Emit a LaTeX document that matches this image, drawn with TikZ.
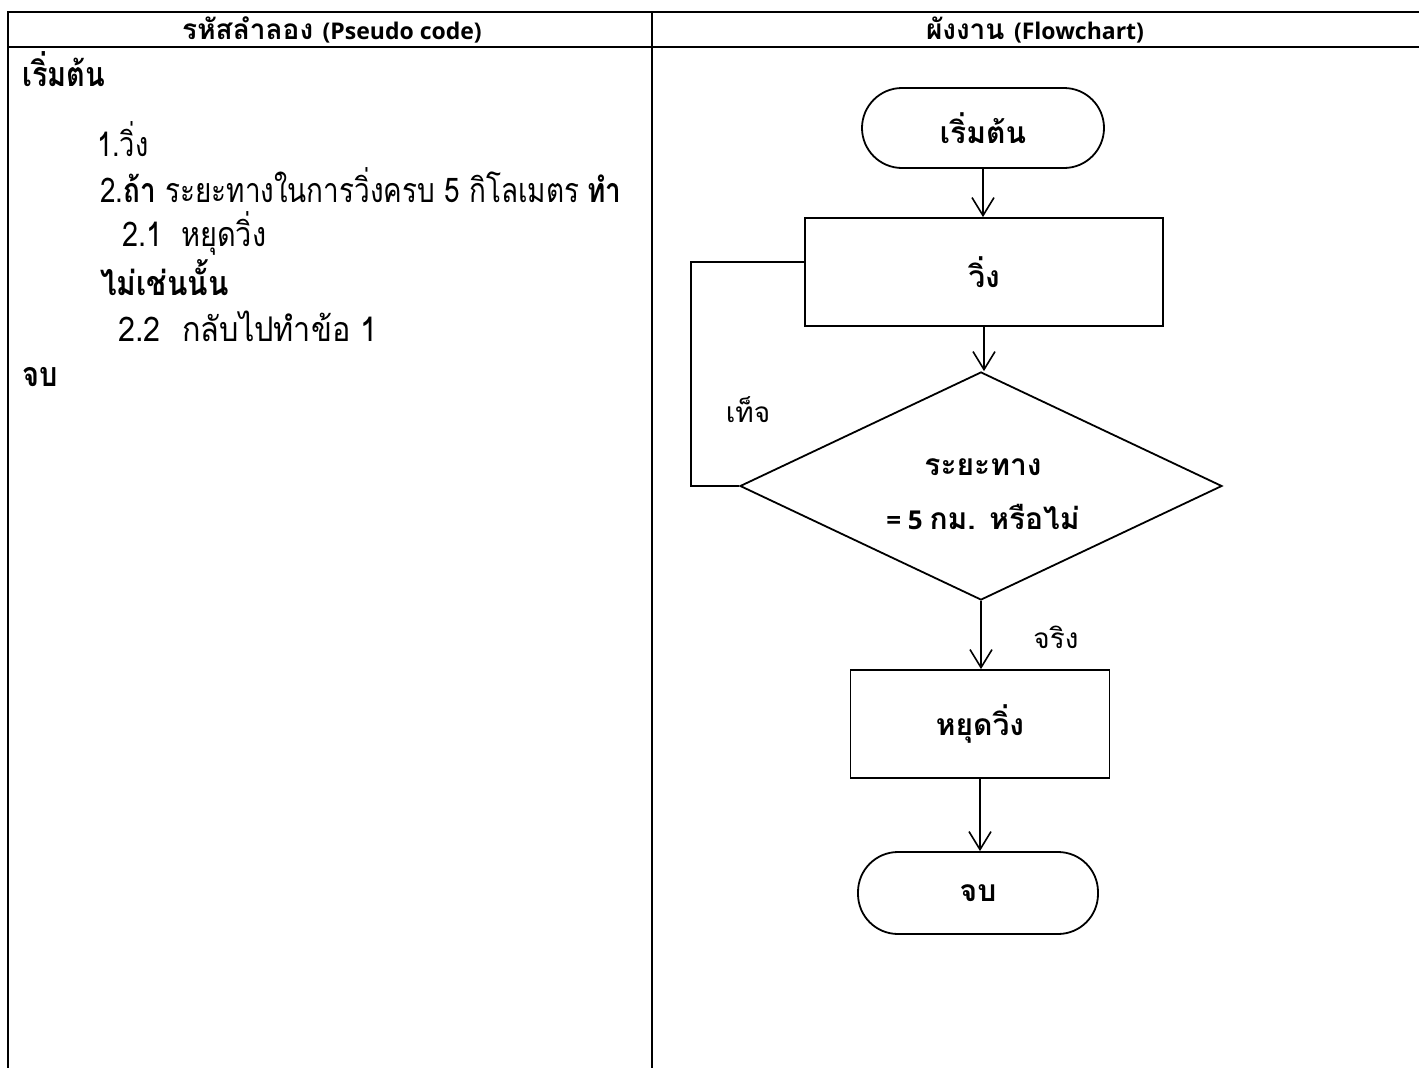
\documentclass[tikz,border=0pt]{standalone}
\usepackage{fontspec}
\setmainfont{Loma}[Script=Thai]
\newfontfamily\latfont{Open Sans}
\usetikzlibrary{arrows.meta,shapes.geometric}
\newcommand\narrowtxt[2][0.85]{\scalebox{#1}[1]{#2}}
\newcommand\lat[1]{{\latfont #1}}
\begin{document}
\begin{tikzpicture}[x=1pt,y=-1pt,
  tbl/.style={line width=2.6pt,black},
  fl/.style={line width=1.8pt,black},
  arr/.style={fl,-{Straight Barb[length=18pt,width=22pt,line width=1.6pt]}},
  txt/.style={anchor=base west,inner sep=0pt,font=\fontsize{34}{40}\selectfont},
  btxt/.style={txt,font=\fontsize{34}{40}\selectfont\bfseries},
  hdr/.style={anchor=base,inner sep=0pt,font=\fontsize{28}{32}\selectfont\bfseries},
  term/.style={draw,fl,rectangle,rounded corners=40pt,inner sep=0pt,font=\fontsize{30}{36}\selectfont\bfseries},
  proc/.style={draw,fl,rectangle,inner sep=0pt,font=\fontsize{30}{36}\selectfont\bfseries},
  dec/.style={draw,fl,diamond,inner sep=0pt},
  dtxt/.style={inner sep=0pt,align=center,font=\fontsize{30}{36}\selectfont\bfseries},
  lbl/.style={inner sep=0pt,font=\fontsize{28}{32}\selectfont}]
\useasboundingbox (0,0) rectangle (1419,1068);
\fill[white] (0,0) rectangle (1419,1068);
% table
\draw[tbl] (8,1068) -- (8,12) -- (1419,12);
\draw[tbl] (8,47) -- (1419,47);
\draw[tbl] (652,12) -- (652,1068);
\node[hdr] (h1) at (332,39) {รหัสลำลอง \lat{\fontsize{23}{28}\selectfont(Pseudo code)}};
\node[hdr] (h2) at (1035,39) {ผังงาน \lat{\fontsize{23}{28}\selectfont(Flowchart)}};
% pseudo code
\node[btxt] (p0) at (22,86) {\narrowtxt{เริ่มต้น}};
\node[txt] (p1) at (97,156) {\narrowtxt[0.8]{1.วิ่ง}};
\node[txt] (p2) at (100,202) {\narrowtxt[0.82]{2.\textbf{ถ้า} ระยะทางในการวิ่งครบ 5 กิโลเมตร\hspace{10pt}\textbf{ทำ}}};
\node[txt] (p3) at (122,246) {\narrowtxt{2.1\hspace{22pt}หยุดวิ่ง}};
\node[btxt] (p4) at (100,295) {\narrowtxt[0.88]{ไม่เช่นนั้น}};
\node[txt] (p5) at (118,341) {\narrowtxt[0.9]{2.2\hspace{24pt}กลับไปทำข้อ 1}};
\node[btxt] (p6) at (22,386) {\narrowtxt{จบ}};
% flowchart
\node[term,minimum width=242pt,minimum height=80pt] (start) at (983,128) {เริ่มต้น};
\node[proc,minimum width=358pt,minimum height=108pt] (run) at (984,272) {วิ่ง};
\node[dec,minimum width=482pt,minimum height=228pt] (dia) at (981,486) {};
\node[dtxt] (dtext) at (983,494) {ระยะทาง\\[18pt]\lat{\fontsize{26}{32}\selectfont = 5 }กม. หรือไม่};
\node[proc,minimum width=259pt,minimum height=108pt] (stop) at (980,724) {หยุดวิ่ง};
\node[term,minimum width=240pt,minimum height=82pt] (end) at (978,893) {จบ};
\draw[arr] (start.south) -- (start.south |- run.north);
\draw[arr] (run.south) -- (run.south |- dia.north);
\draw[arr] (dia.south) -- (dia.south |- stop.north);
\draw[arr] (stop.south) -- (stop.south |- end.north);
\coordinate (lp) at (691,0);
\draw[fl] (dia.west) -- (dia.west -| lp) |- ([yshift=10pt]run.west);
\node[lbl] (no) at (748,410) {เท็จ};
\node[lbl] (yes) at (1056,637) {จริง};
\end{tikzpicture}
\end{document}
